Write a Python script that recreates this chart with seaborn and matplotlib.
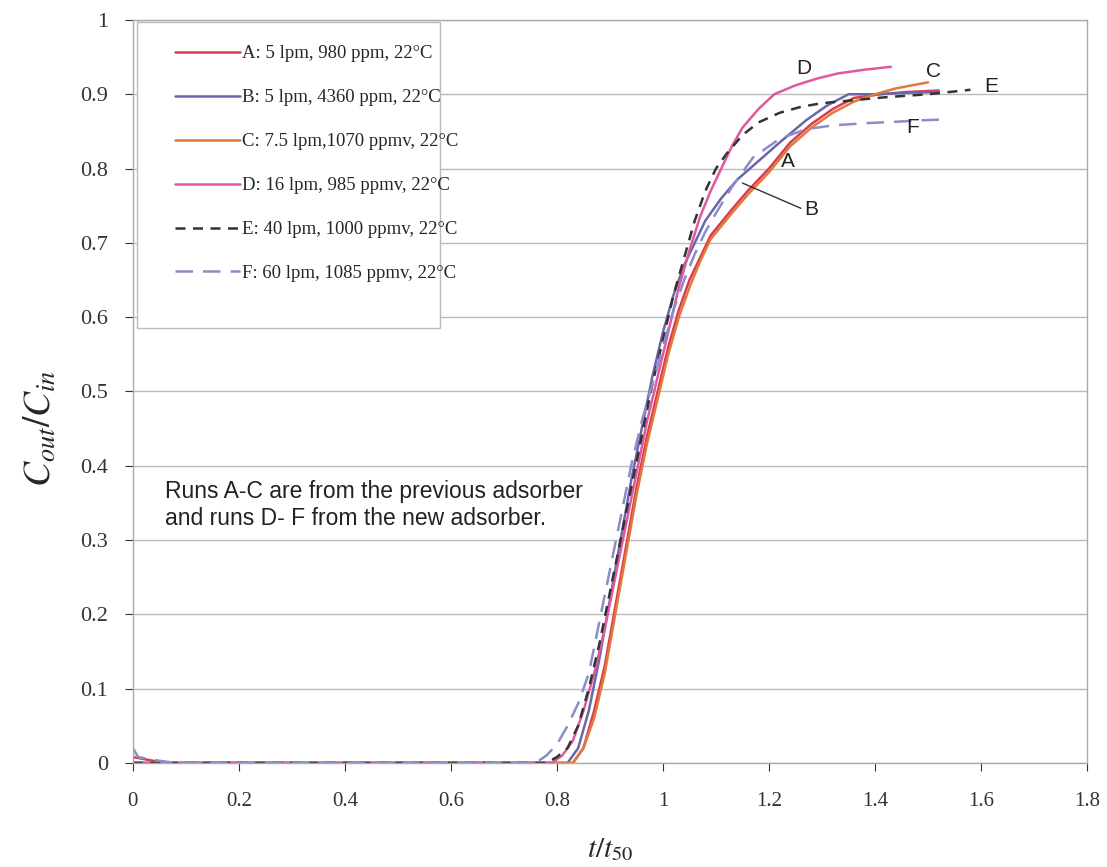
import numpy as np
import pandas as pd
import matplotlib
matplotlib.use("Agg")
import matplotlib.pyplot as plt
from matplotlib.patches import Rectangle
import seaborn as sns

# breakthrough curves (t/t50, Cout/Cin)
t_A = [0, 0.03, 0.06, 0.83, 0.85, 0.87, 0.89, 0.91, 0.93, 0.95, 0.97, 0.99, 1.01, 1.03, 1.05, 1.07, 1.09,
       1.13, 1.16, 1.20, 1.24, 1.28, 1.32, 1.36, 1.41, 1.46, 1.52]
c_A = [0.008, 0.004, 0.0, 0.0, 0.02, 0.07, 0.13, 0.21, 0.29, 0.37, 0.44, 0.50, 0.56, 0.61, 0.65, 0.68, 0.71,
       0.745, 0.77, 0.80, 0.835, 0.86, 0.88, 0.895, 0.90, 0.903, 0.905]
t_B = [0, 0.82, 0.84, 0.86, 0.88, 0.90, 0.92, 0.94, 0.96, 0.98, 1.00, 1.02, 1.04, 1.06, 1.08, 1.11, 1.14,
       1.18, 1.22, 1.27, 1.31, 1.35, 1.40, 1.46, 1.52]
c_B = [0, 0.0, 0.02, 0.07, 0.14, 0.22, 0.30, 0.38, 0.45, 0.52, 0.58, 0.63, 0.67, 0.70, 0.73, 0.76, 0.785,
       0.81, 0.835, 0.865, 0.885, 0.90, 0.90, 0.902, 0.903]
t_C = [0, 0.83, 0.85, 0.87, 0.89, 0.91, 0.93, 0.95, 0.97, 0.99, 1.01, 1.03, 1.05, 1.07, 1.09, 1.13, 1.16,
       1.20, 1.24, 1.28, 1.32, 1.36, 1.40, 1.44, 1.47, 1.50]
c_C = [0, 0.0, 0.02, 0.06, 0.12, 0.20, 0.28, 0.36, 0.43, 0.49, 0.55, 0.60, 0.64, 0.675, 0.705, 0.74, 0.765,
       0.795, 0.83, 0.855, 0.875, 0.89, 0.90, 0.908, 0.912, 0.916]
t_D = [0, 0.79, 0.81, 0.83, 0.85, 0.87, 0.89, 0.91, 0.93, 0.95, 0.97, 0.99, 1.01, 1.03, 1.05, 1.07, 1.09,
       1.11, 1.13, 1.15, 1.18, 1.21, 1.25, 1.29, 1.33, 1.38, 1.43]
c_D = [0, 0.0, 0.01, 0.03, 0.07, 0.12, 0.18, 0.25, 0.32, 0.39, 0.46, 0.52, 0.58, 0.64, 0.69, 0.735, 0.77,
       0.80, 0.83, 0.855, 0.88, 0.90, 0.912, 0.921, 0.928, 0.933, 0.937]
t_E = [0, 0.78, 0.80, 0.82, 0.84, 0.86, 0.88, 0.90, 0.92, 0.94, 0.96, 0.98, 1.00, 1.02, 1.04, 1.06, 1.08,
       1.10, 1.12, 1.15, 1.18, 1.22, 1.26, 1.30, 1.36, 1.42, 1.50, 1.58]
c_E = [0, 0.0, 0.008, 0.02, 0.05, 0.10, 0.16, 0.23, 0.30, 0.37, 0.44, 0.51, 0.57, 0.63, 0.68, 0.73, 0.77,
       0.80, 0.82, 0.845, 0.862, 0.875, 0.883, 0.888, 0.892, 0.896, 0.90, 0.906]
t_F = [0, 0.01, 0.04, 0.08, 0.76, 0.78, 0.80, 0.82, 0.84, 0.86, 0.88, 0.90, 0.92, 0.94, 0.96, 0.98, 1.00,
       1.02, 1.04, 1.06, 1.08, 1.10, 1.13, 1.17, 1.22, 1.27, 1.32, 1.38, 1.44, 1.49, 1.53]
c_F = [0.02, 0.008, 0.004, 0.0, 0.0, 0.01, 0.025, 0.05, 0.08, 0.12, 0.19, 0.26, 0.33, 0.40, 0.46, 0.51, 0.56,
       0.61, 0.65, 0.685, 0.715, 0.74, 0.775, 0.815, 0.84, 0.853, 0.858, 0.861, 0.863, 0.865, 0.866]

labels = ["A: 5 lpm, 980 ppm, 22°C", "B: 5 lpm, 4360 ppm, 22°C", "C: 7.5 lpm,1070 ppmv, 22°C",
          "D: 16 lpm, 985 ppmv, 22°C", "E: 40 lpm, 1000 ppmv, 22°C", "F: 60 lpm, 1085 ppmv, 22°C"]
colors = ["#dc3a52", "#6868a8", "#e07a3a", "#e0589e", "#333333", "#8c8cc8"]
dashes = [None, None, None, None, (4, 3), (7, 4)]

sns.set_style("white")
plt.rcParams['font.family'] = ['Liberation Serif', 'DejaVu Serif']
plt.rcParams['mathtext.fontset'] = 'stix'

fig, ax = plt.subplots(figsize=(11.07, 8.67), dpi=100)
fig.subplots_adjust(left=0.120, right=0.982, bottom=0.120, top=0.977)

series = [(t_A, c_A), (t_B, c_B), (t_C, c_C), (t_D, c_D), (t_E, c_E), (t_F, c_F)]
for (t, c), lab, col, d in zip(series, labels, colors, dashes):
    df = pd.DataFrame({"t": t, "c": c})
    sns.lineplot(data=df, x="t", y="c", ax=ax, color=col, lw=1.8, label=lab, sort=False)
    if d is not None:
        ax.lines[-1].set_dashes(d)

ax.set_xlim(0, 1.8)
ax.set_ylim(0, 1)
ax.set_xticks(np.arange(0, 1.81, 0.2))
ax.set_xticklabels(["0", "0.2", "0.4", "0.6", "0.8", "1", "1.2", "1.4", "1.6", "1.8"])
ax.set_yticks(np.arange(0, 1.01, 0.1))
ax.set_yticklabels(["0", "0.1", "0.2", "0.3", "0.4", "0.5", "0.6", "0.7", "0.8", "0.9", "1"])
ax.yaxis.grid(True, color="#bbbbbb", lw=1)
ax.xaxis.grid(False)
ax.tick_params(axis="both", colors="#333333", length=6, direction="out", bottom=True, left=True)
ax.tick_params(axis="x", labelsize=15, pad=15)
ax.tick_params(axis="y", labelsize=16, pad=12)
for s in ax.spines.values():
    s.set_color("#aaaaaa")
    s.set_linewidth(1)

ax.set_xlabel(r"$t/t_{\mathit{50}}$", fontsize=21, labelpad=18)
ax.set_ylabel(r"$C_{out}/C_{in}$", fontsize=27)
ax.yaxis.set_label_coords(-0.077, 0.45)

# legend frame drawn separately so the inner padding can match
ax.add_patch(Rectangle((0.0042, 0.585), 0.318, 0.412, transform=ax.transAxes, fill=True,
                       facecolor="white", edgecolor="#bbbbbb", lw=1, zorder=4))
leg = ax.legend(loc="upper left", bbox_to_anchor=(0.044, 0.966), fontsize=13.5, frameon=False,
                handlelength=3.5, handletextpad=0.1, labelspacing=1.43, borderpad=0.0,
                borderaxespad=0.0)
leg.set_zorder(5)

sans = ['Liberation Sans', 'DejaVu Sans']
ax.text(0.060, 0.347, "Runs A-C are from the previous adsorber\nand runs D- F from the new adsorber.",
        fontsize=16.5, family=sans, color="#222222", va="center", linespacing=1.25)
for lab, x, y in [("D", 1.265, 0.935), ("C", 1.51, 0.93), ("E", 1.62, 0.91), ("F", 1.47, 0.855),
                  ("A", 1.235, 0.81), ("B", 1.28, 0.745)]:
    ax.text(x, y, lab, fontsize=15, family=sans, color="#222222", ha="center", va="center")
ax.annotate("", xy=(1.145, 0.782), xytext=(1.265, 0.745),
            arrowprops=dict(arrowstyle="-", color="#333333", lw=1))

fig.savefig("out.png", dpi=100)
